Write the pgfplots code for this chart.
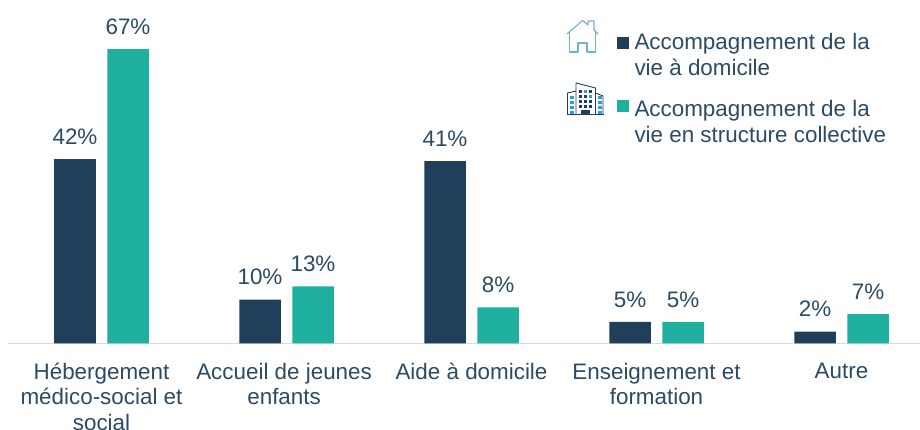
\documentclass[border=0pt]{standalone}
\usepackage{pgfplots}
\pgfplotsset{compat=1.18}
\usepackage{fontspec}
\setmainfont{Liberation Sans}
\definecolor{dk}{HTML}{1F3F5A}
\definecolor{tl}{HTML}{20B0A0}
\definecolor{txt}{HTML}{2A4A66}
\definecolor{hs}{HTML}{6FAEE0}
\definecolor{bl}{HTML}{2F9BE0}
\begin{document}
\begin{tikzpicture}[x=1pt,y=1pt]
\path[use as bounding box] (0,0) rectangle (920,430);
\begin{axis}[
  at={(8pt,86.5pt)}, anchor=south west, scale only axis,
  width=912pt, height=343.5pt,
  xmin=-0.5054, xmax=4.4243, ymin=0, ymax=78.2,
  axis y line=none, axis x line*=bottom,
  x axis line style={draw=black!15, line width=1.5pt, -},
  xtick={0,0.987,2,3,4}, xtick style={draw=none},
  xticklabels={{Hébergement\\médico-social et\\social},{Accueil de jeunes\\enfants},{Aide à domicile},{Enseignement et\\formation},{Autre}},
  xticklabel style={align=center, text=txt, font=\fontsize{22.4}{25.6}\selectfont, anchor=north, yshift=-11.5pt},
  clip=false,
  ybar, bar width=41.5pt,
  point meta=explicit,
  nodes near coords={\pgfmathprintnumber[assume math mode=true]{\pgfplotspointmeta}\%},
  every node near coord/.append style={text=txt, font=\fontsize{22.4}{24}\selectfont, yshift=11pt},
  legend style={at={(axis description cs:0.667,0.9098)}, anchor=north west, draw=none, fill=none,
    font=\fontsize{22.4}{26}\selectfont, text=txt,
    cells={anchor=west, align=left}, row sep=19pt, inner sep=0pt, column sep=4pt},
]
\addplot[fill=dk, draw=none, bar shift=-26.5pt, legend image code/.code={\fill[dk,draw=none] (0pt,6pt) rectangle (12pt,18pt);}] coordinates {(0,42)[42] (1,10)[10] (2,41.5)[41] (3,4.9)[5] (4,2.7)[2]};
\addplot[fill=tl, draw=none, bar shift=26.5pt, legend image code/.code={\fill[tl,draw=none] (0pt,10pt) rectangle (12pt,22pt);}] coordinates {(0,67)[67] (1,13)[13] (2,8.2)[8] (3,4.9)[5] (4,6.7)[7]};
\addlegendentry{Accompagnement de la\\vie à domicile}
\addlegendentry{Accompagnement de la\\vie en structure collective}
\end{axis}
\begin{scope}[shift={(0,430)},y=-1pt]
 % house icon
 \draw[hs, line width=1.1pt, line join=round] (567,34) -- (582.5,20.5) -- (588,25) -- (588,21) -- (594,21) -- (594,30) -- (598,34);
 \draw[hs, line width=1.1pt, line join=round] (569.5,32) -- (569.5,52) -- (578,52) -- (578,43) -- (587,43) -- (587,52) -- (595.5,52) -- (595.5,32);
 % building icon
 \draw[dk, line width=0.9pt, line join=round] (567.5,115) -- (567.5,93) -- (576,91);
 \draw[dk, line width=0.9pt, line join=round] (576,115) -- (576,83) -- (595.5,88) -- (595.5,115);
 \draw[dk, line width=0.9pt, line join=round] (595.5,93) -- (603,96) -- (603,115);
 \draw[dk, line width=1pt] (567,115) -- (603.5,115);
 \fill[dk] (581,110) rectangle (590,115);
 \foreach \y in {96,101,106,111}{
   \fill[bl] (570,\y) rectangle (573.5,\y+3);
   \fill[bl] (598,\y) rectangle (601.5,\y+3);
 }
 \foreach \x in {578.5,583.5,588.5}{
   \foreach \y in {90,95,100,105}{ \fill[dk] (\x,\y) rectangle (\x+3,\y+3); }
 }
 \fill[bl] (583.5,90) rectangle (586.5,93);
 \fill[bl] (588.5,95) rectangle (591.5,98);
\end{scope}
\end{tikzpicture}
\end{document}
